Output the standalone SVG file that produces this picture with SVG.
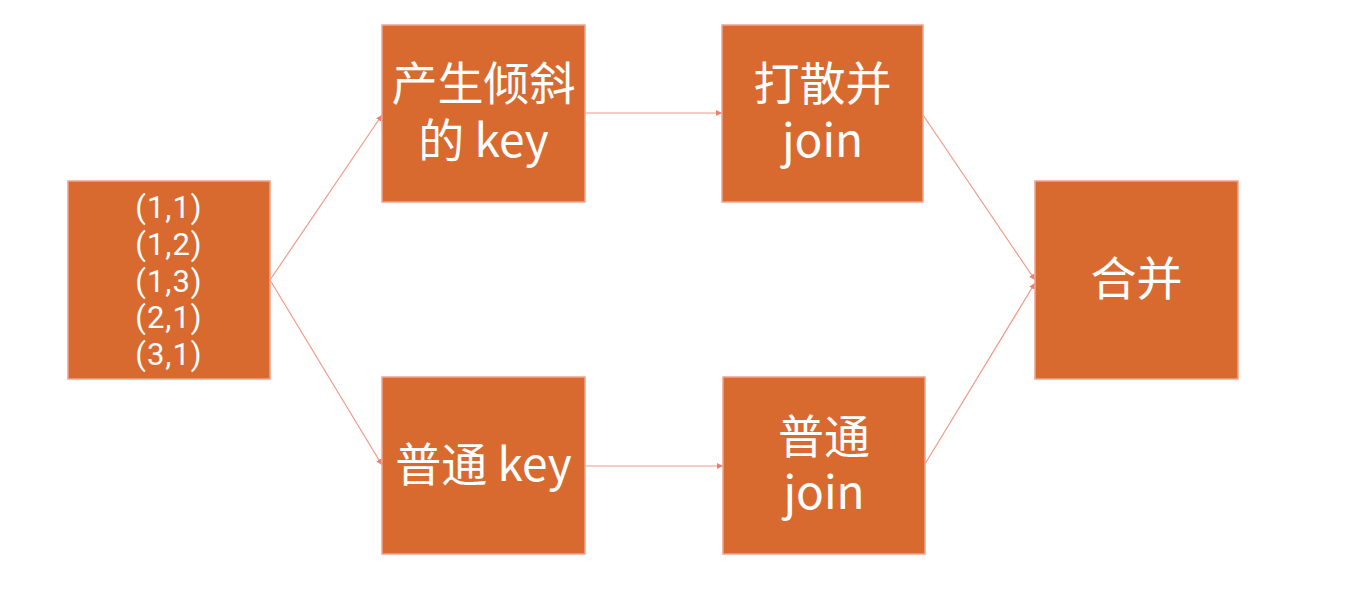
<svg xmlns="http://www.w3.org/2000/svg" width="1366" height="604" viewBox="0 0 1366 604">
<style>
.box{fill:#D86A30;stroke:#F2A390;stroke-width:1.5}
.t{fill:#FFFFFF;font-family:"Noto Sans CJK SC","Noto Sans",sans-serif;font-size:46px;text-anchor:middle}
.n{fill:#FFFFFF;font-family:Roboto,"Noto Sans",sans-serif;font-size:31px;letter-spacing:1px;text-anchor:middle}
.c{fill:none;stroke:#F09A88;stroke-width:1.2}
</style>
<defs>
<marker id="ah" viewBox="0 0 10 10" refX="10" refY="5" markerWidth="6" markerHeight="6" orient="auto" markerUnits="userSpaceOnUse">
<path d="M0,0 L10,5 L0,10 z" fill="#EE7F6A"/>
</marker>
</defs>
<rect width="1366" height="604" fill="#FFFFFF"/>
<g id="connectors">
<line class="c" x1="270" y1="280" x2="382" y2="115" marker-end="url(#ah)"/>
<line class="c" x1="270" y1="280" x2="382" y2="465" marker-end="url(#ah)"/>
<line class="c" x1="585" y1="113" x2="722" y2="113" marker-end="url(#ah)"/>
<line class="c" x1="585" y1="466" x2="723" y2="466" marker-end="url(#ah)"/>
<line class="c" x1="923" y1="115" x2="1035" y2="280" marker-end="url(#ah)"/>
<line class="c" x1="925" y1="464" x2="1035" y2="283" marker-end="url(#ah)"/>
</g>
<g id="source">
<rect class="box" x="68" y="181" width="202" height="198"/>
<text class="n" x="169" y="218">(1,1)<tspan x="169" dy="36.8">(1,2)</tspan><tspan x="169" dy="36.8">(1,3)</tspan><tspan x="169" dy="36.8">(2,1)</tspan><tspan x="169" dy="36.8">(3,1)</tspan></text>
</g>
<g id="skew-key">
<rect class="box" x="382" y="25" width="203" height="177"/>
<text class="t" x="483.5" y="100">产生倾斜<tspan x="483.5" dy="57">的 key</tspan></text>
</g>
<g id="normal-key">
<rect class="box" x="382" y="377" width="203" height="177"/>
<text class="t" x="483.5" y="481">普通 key</text>
</g>
<g id="scatter-join">
<rect class="box" x="722" y="25" width="201" height="177"/>
<text class="t" x="822.5" y="100">打散并<tspan x="822.5" dy="57">join</tspan></text>
</g>
<g id="normal-join">
<rect class="box" x="723" y="377" width="202" height="177"/>
<text class="t" x="824" y="453">普通<tspan x="824" dy="56">join</tspan></text>
</g>
<g id="merge">
<rect class="box" x="1035" y="181" width="203" height="198"/>
<text class="t" x="1136.5" y="295">合并</text>
</g>
</svg>
